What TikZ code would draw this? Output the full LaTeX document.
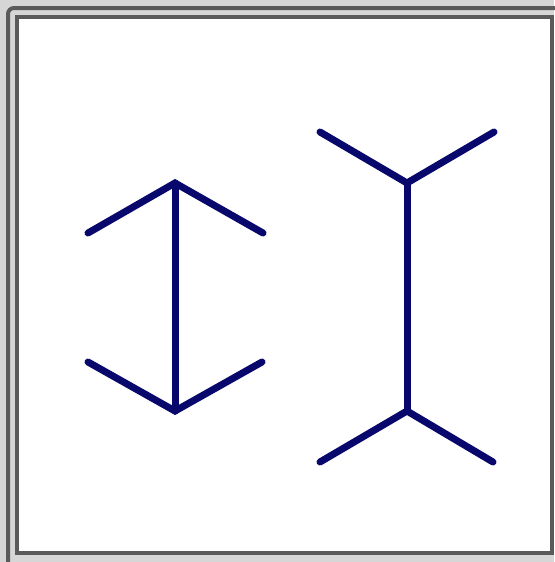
\documentclass[tikz,border=0pt]{standalone}
\definecolor{bgray}{RGB}{214,214,214}
\definecolor{fgray}{RGB}{90,90,90}
\definecolor{ink}{RGB}{8,8,108}
\begin{document}
\begin{tikzpicture}[x=1pt,y=-1pt,
  frame/.style={draw=fgray,line width=4pt},
  fig/.style={draw=ink,line width=7pt,line cap=round,line join=miter}]
\useasboundingbox (0,0) rectangle (554,562);
\fill[bgray] (0,0) rectangle (554,562);
\draw[frame,rounded corners=6pt] (8,8) rectangle (564,572);
\fill[white] (17,17) rectangle (552,553);
\draw[frame] (17,17) rectangle (552,553);
% left figure (arrowheads)
\coordinate (lt) at (175,183);
\coordinate (lb) at (175,411);
\coordinate (ltl) at (88,233);
\coordinate (ltr) at (263,233);
\coordinate (lbl) at (88,362);
\coordinate (lbr) at (262,362);
\draw[fig] (lt) -- (lb);
\draw[fig] (ltl) -- (lt) -- (ltr);
\draw[fig] (lbl) -- (lb) -- (lbr);
% right figure (fins)
\coordinate (rt) at (407,183);
\coordinate (rb) at (407,411);
\coordinate (rtl) at (320,132);
\coordinate (rtr) at (494,132);
\coordinate (rbl) at (320,462);
\coordinate (rbr) at (493,462);
\draw[fig] (rt) -- (rb);
\draw[fig] (rtl) -- (rt) -- (rtr);
\draw[fig] (rbl) -- (rb) -- (rbr);
\end{tikzpicture}
\end{document}
